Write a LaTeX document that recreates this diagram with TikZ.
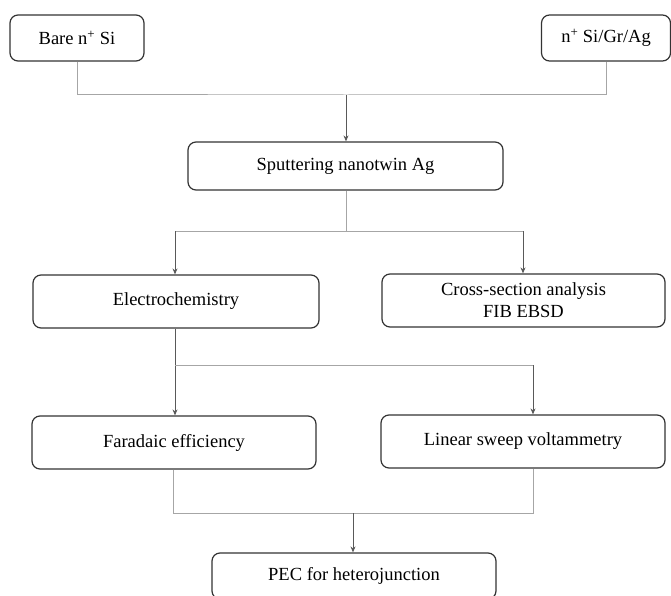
\documentclass[tikz,border=0pt]{standalone}
\usepackage{fontspec}
\setmainfont{Liberation Serif}
\usepackage{tikz}
\usetikzlibrary{arrows.meta}
\tikzstyle{arrow} = [->,>={Stealth[length=6pt,width=5pt]},draw=black!65,line width=0.9pt]
\tikzstyle{link} = [draw=black!35,line width=1pt]
\tikzstyle{box} = [draw=black!80,line width=1.2pt,rounded corners=8pt,align=center,font=\fontsize{18.5}{22}\selectfont]

\begin{document}
\begin{tikzpicture}[x=1pt,y=-1pt]
      \useasboundingbox (0,0) rectangle (671,596);
      \node[box, minimum width=134pt, minimum height=46pt] (bare) at (77, 38) {Bare n\textsuperscript{+} Si};
      \node[box, minimum width=129pt, minimum height=46pt] (gr) at (606, 38) {n\textsuperscript{+} Si/Gr/Ag};
      \node[box, minimum width=315pt, minimum height=48pt] (sput) at (345.5, 166) {Sputtering nanotwin Ag};
      \node[box, minimum width=286pt, minimum height=53pt] (elec) at (176, 301.5) {Electrochemistry};
      \node[box, minimum width=283pt, minimum height=53pt] (cross) at (523.5, 300.5) {Cross-section analysis\\FIB EBSD};
      \node[box, minimum width=284pt, minimum height=53pt] (fara) at (174, 442.5) {Faradaic efficiency};
      \node[box, minimum width=284pt, minimum height=53pt] (lsv) at (523, 441.5) {Linear sweep voltammetry};
      \node[box, minimum width=284pt, minimum height=46pt] (pec) at (354, 576) {PEC for heterojunction};

      \coordinate (ja) at (346, 95);
      \coordinate (jb) at (346, 231);
      \coordinate (jbl) at (175, 231);
      \coordinate (jbr) at (523, 231);
      \coordinate (jc) at (175, 365);
      \coordinate (jcr) at (533, 365);
      \coordinate (jd) at (353, 513);
      \coordinate (jdr) at (533, 513);

      \draw[link] (bare.south) |- (ja) -| (gr.south);
      \draw[arrow] (ja) -- (sput.north -| ja);
      \draw[link] (sput.south -| jb) -- (jb);
      \draw[link] (jbl) -- (jbr);
      \draw[arrow] (jbl) -- (jbl |- elec.north);
      \draw[arrow] (jbr) -- (jbr |- cross.north);
      \draw[arrow] (elec.south -| jc) -- (jc |- fara.north);
      \draw[link] (jc) -- (jcr);
      \draw[arrow] (jcr) -- (jcr |- lsv.north);
      \draw[link] (fara.south -| 173,0) |- (jdr) -- (jdr |- lsv.south);
      \draw[arrow] (jd) -- (jd |- pec.north);
\end{tikzpicture}
\end{document}
